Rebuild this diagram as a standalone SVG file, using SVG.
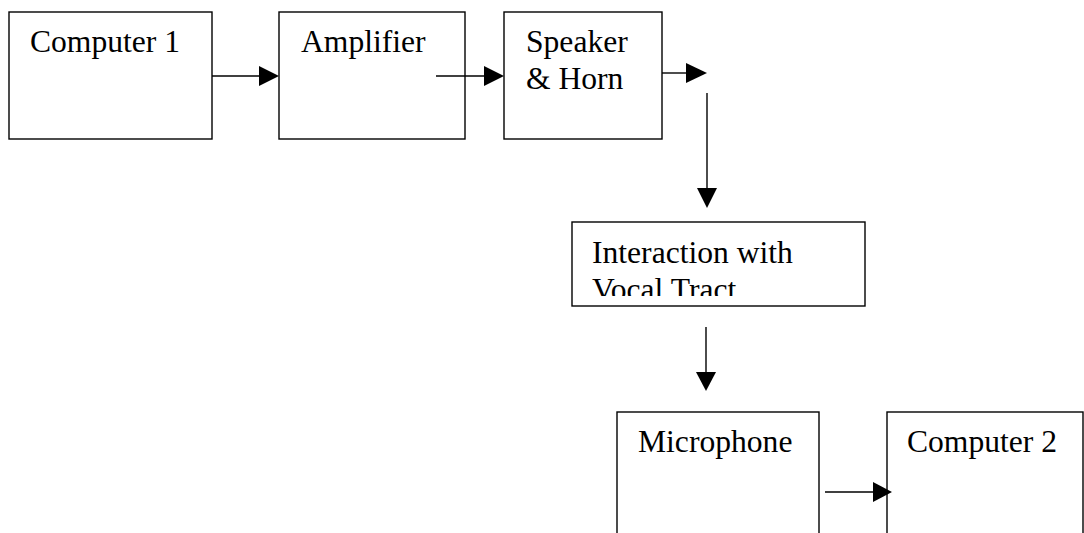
<svg xmlns="http://www.w3.org/2000/svg" width="1084" height="533" viewBox="0 0 1084 533">
<style>
.box{fill:#fff;stroke:#000;stroke-width:1.4}
.lbl{font-family:"Liberation Serif","Times New Roman",serif;font-size:31.6px;fill:#000}
.ln{stroke:#000;stroke-width:1.4;fill:none}
.ah{fill:#000}
</style>
<defs>
<clipPath id="clipVT"><rect x="572" y="222" width="293" height="74"/></clipPath>
</defs>
<rect width="1084" height="533" fill="#fff"/>
<g id="computer1"><rect class="box" x="9" y="12" width="203" height="127"/><text class="lbl" x="30" y="52">Computer 1</text></g>
<g id="amplifier"><rect class="box" x="279" y="12" width="186" height="127"/><text class="lbl" x="301" y="52">Amplifier</text></g>
<g id="speaker"><rect class="box" x="504" y="12" width="158" height="127"/><text class="lbl" x="526" y="52">Speaker</text><text class="lbl" x="526" y="89">&amp; Horn</text></g>
<g id="interaction"><rect class="box" x="572" y="222" width="293" height="84"/><g clip-path="url(#clipVT)"><text class="lbl" x="592" y="263">Interaction with</text><text class="lbl" x="592" y="300">Vocal Tract</text></g></g>
<g id="microphone"><rect class="box" x="617" y="412" width="202" height="130"/><text class="lbl" x="638" y="452">Microphone</text></g>
<g id="computer2"><rect class="box" x="887" y="412" width="196" height="130"/><text class="lbl" x="907" y="452">Computer 2</text></g>
<g id="connectors">
<line class="ln" x1="212" y1="76" x2="262" y2="76"/><polygon class="ah" points="259,66 279,76 259,86"/>
<line class="ln" x1="436" y1="76" x2="487" y2="76"/><polygon class="ah" points="484,66 504,76 484,86"/>
<line class="ln" x1="662" y1="73" x2="689" y2="73"/><polygon class="ah" points="686,63 707,73 686,83"/>
<line class="ln" x1="707" y1="93" x2="707" y2="191"/><polygon class="ah" points="697,188 707,208 717,188"/>
<line class="ln" x1="706" y1="327" x2="706" y2="375"/><polygon class="ah" points="696,372 706,391 716,372"/>
<line class="ln" x1="825" y1="492" x2="876" y2="492"/><polygon class="ah" points="873,482 892,492 873,502"/>
</g>
</svg>
